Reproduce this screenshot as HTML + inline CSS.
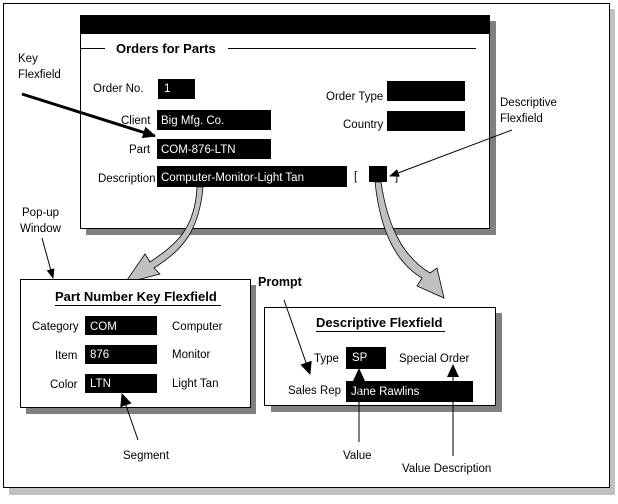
<!DOCTYPE html>
<html><head><meta charset="utf-8"><style>
html,body{margin:0;padding:0;background:#fff;}
svg{display:block;font-family:"Liberation Sans",Arial,sans-serif;}
text{font-size:11.5px;}
</style></head><body>
<svg width="618" height="504" viewBox="0 0 618 504" xmlns="http://www.w3.org/2000/svg">
<defs>
<marker id="ah" markerWidth="10" markerHeight="10" refX="9" refY="5" orient="auto" markerUnits="userSpaceOnUse"><path d="M0,1 L10,5 L0,9 z" fill="#000"/></marker>
<marker id="ahb" markerWidth="14" markerHeight="12" refX="12" refY="6" orient="auto" markerUnits="userSpaceOnUse"><path d="M0,0 L13,6 L0,12 z" fill="#000"/></marker>
</defs>
<rect x="9" y="9" width="606" height="486" fill="#c0c0c0"/>
<rect x="3.5" y="3.5" width="606" height="484" fill="#fff" stroke="#000"/>
<!-- main window -->
<rect x="86" y="21" width="410" height="214" fill="#808080"/>
<rect x="80.5" y="15.5" width="409" height="213" fill="#fff" stroke="#000"/>
<rect x="80" y="15" width="410" height="19" fill="#000"/>
<line x1="80" y1="48.5" x2="105" y2="48.5" stroke="#000"/>
<line x1="228" y1="48.5" x2="476" y2="48.5" stroke="#000"/>
<text x="116" y="53" font-weight="bold" style="font-size:13px">Orders for Parts</text>
<text x="93" y="92">Order No.</text><rect x="158" y="79" width="37" height="20" fill="#000"/><text x="164" y="92" fill="#fff">1</text>
<text x="121" y="124">Client</text><rect x="157" y="110" width="114" height="20" fill="#000"/><text x="161" y="124" fill="#fff">Big Mfg. Co.</text>
<text x="129" y="153">Part</text><rect x="157" y="139" width="114" height="20" fill="#000"/><text x="161" y="153" fill="#fff">COM-876-LTN</text>
<text x="98" y="182">Description</text><rect x="157" y="166" width="190" height="21" fill="#000"/><text x="161" y="181" fill="#fff">Computer-Monitor-Light Tan</text>
<text x="326" y="100">Order Type</text><rect x="387" y="81" width="78" height="20" fill="#000"/>
<text x="343" y="128">Country</text><rect x="387" y="111" width="78" height="20" fill="#000"/>
<text x="354" y="180">[</text><rect x="369" y="166" width="18" height="16" fill="#000"/><text x="395" y="180">]</text>
<text x="18" y="62">Key</text><text x="18" y="78">Flexfield</text>
<line x1="22" y1="94" x2="155" y2="136" stroke="#000" stroke-width="3" marker-end="url(#ahb)"/>
<text x="500" y="106">Descriptive</text><text x="500" y="122">Flexfield</text>
<line x1="512" y1="130" x2="390" y2="176" stroke="#000" marker-end="url(#ah)"/>
<text x="22" y="216">Pop-up</text><text x="20" y="232">Window</text>
<line x1="42" y1="238" x2="53" y2="278" stroke="#000" marker-end="url(#ah)"/>
<!-- gray curved arrows -->
<path d="M197,187 C195,230 175,245 150,262 L145,254 L125,283 L160,274 L154,268 C182,250 199,232 203,187 z" fill="#c0c0c0" stroke="#000" stroke-width="0.8"/>
<path d="M375,182 C380,230 395,262 422,278 L417,286 L444,298 L437,268 L430,273 C405,258 388,230 381,182 z" fill="#c0c0c0" stroke="#000" stroke-width="0.8"/>
<!-- Part number box -->
<rect x="26" y="285" width="230" height="129" fill="#808080"/>
<rect x="20.5" y="279.5" width="230" height="128" fill="#fff" stroke="#000"/>
<text x="55" y="301" font-weight="bold" style="font-size:13px">Part Number Key Flexfield</text>
<line x1="55" y1="305.5" x2="221" y2="305.5" stroke="#000"/>
<text x="32" y="330">Category</text><rect x="85" y="316" width="72" height="19" fill="#000"/><text x="90" y="330" fill="#fff">COM</text><text x="172" y="330">Computer</text>
<text x="55" y="359">Item</text><rect x="85" y="345" width="72" height="19" fill="#000"/><text x="90" y="358" fill="#fff">876</text><text x="172" y="358">Monitor</text>
<text x="50" y="388">Color</text><rect x="85" y="374" width="72" height="19" fill="#000"/><text x="90" y="387" fill="#fff">LTN</text><text x="172" y="387">Light Tan</text>
<line x1="138" y1="440" x2="122" y2="394" stroke="#000" marker-end="url(#ahb)"/>
<text x="123" y="459">Segment</text>
<!-- Descriptive box -->
<rect x="271" y="313" width="231" height="99" fill="#808080"/>
<rect x="264.5" y="307.5" width="231" height="98" fill="#fff" stroke="#000"/>
<text x="316" y="327" font-weight="bold" style="font-size:13px">Descriptive Flexfield</text>
<line x1="316" y1="331.5" x2="445" y2="331.5" stroke="#000"/>
<text x="314" y="362">Type</text><rect x="346" y="347" width="40" height="22" fill="#000"/><text x="352" y="361" fill="#fff">SP</text><text x="399" y="362">Special Order</text>
<text x="288" y="394">Sales Rep</text><rect x="346" y="381" width="127" height="21" fill="#000"/><text x="351" y="395" fill="#fff">Jane Rawlins</text>
<text x="258" y="286" font-weight="bold" style="font-size:12.5px">Prompt</text>
<line x1="284" y1="300" x2="310" y2="374" stroke="#000" marker-end="url(#ahb)"/>
<line x1="359" y1="442" x2="359" y2="369" stroke="#000" marker-end="url(#ahb)"/>
<text x="343" y="459">Value</text>
<line x1="453" y1="456" x2="453" y2="365" stroke="#000" marker-end="url(#ahb)"/>
<text x="402" y="472">Value Description</text>
</svg>
</body></html>
